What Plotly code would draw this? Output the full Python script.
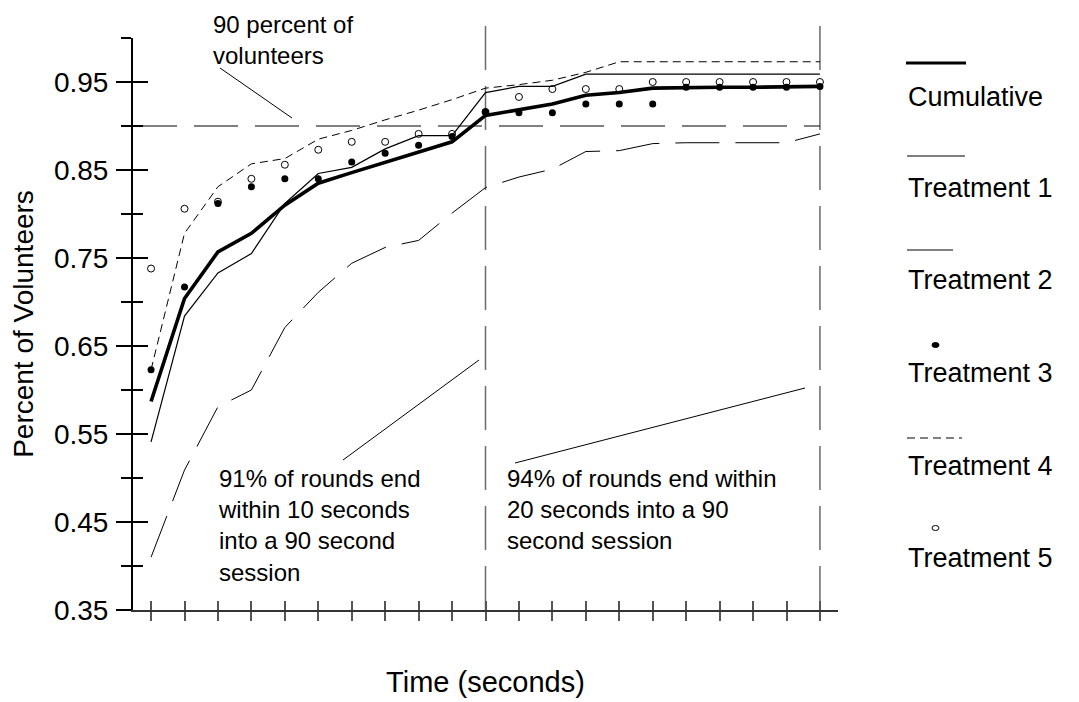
import plotly.graph_objects as go

# ---------------- data ----------------
TIME = list(range(0, 21))  # seconds
CUMULATIVE = [0.587, 0.704, 0.757, 0.778, 0.810, 0.835, 0.847, 0.859, 0.871, 0.882, 0.912,
              0.919, 0.925, 0.935, 0.938, 0.943, 0.944, 0.944, 0.944, 0.944, 0.945]
TREATMENT_1 = [0.541, 0.684, 0.733, 0.755, 0.812, 0.846, 0.853, 0.874, 0.889, 0.889, 0.938,
               0.945, 0.945, 0.959, 0.959, 0.959, 0.959, 0.959, 0.959, 0.959, 0.959]
TREATMENT_2 = [0.410, 0.509, 0.581, 0.600, 0.671, 0.711, 0.744, 0.762, 0.770, 0.801, 0.830,
               0.842, 0.851, 0.871, 0.872, 0.880, 0.881, 0.881, 0.881, 0.881, 0.891]
TREATMENT_3 = [0.623, 0.717, 0.812, 0.831, 0.840, 0.840, 0.859, 0.869, 0.878, 0.888, 0.916,
               0.915, 0.915, 0.925, 0.925, 0.925, 0.944, 0.944, 0.944, 0.944, 0.945]
TREATMENT_4 = [0.623, 0.778, 0.831, 0.857, 0.863, 0.885, 0.895, 0.907, 0.918, 0.930, 0.943,
               0.947, 0.952, 0.961, 0.973, 0.973, 0.973, 0.973, 0.973, 0.973, 0.973]
TREATMENT_5 = [0.738, 0.806, 0.814, 0.840, 0.856, 0.873, 0.882, 0.882, 0.891, 0.891, 0.916,
               0.933, 0.942, 0.942, 0.942, 0.950, 0.950, 0.950, 0.950, 0.950, 0.950]

Y_MAJOR_TICKS = [0.35, 0.45, 0.55, 0.65, 0.75, 0.85, 0.95]
Y_MINOR_TICKS = [0.40, 0.50, 0.60, 0.70, 0.80, 0.90, 1.00]
Y_TICK_LABELS = ["0.35", "0.45", "0.55", "0.65", "0.75", "0.85", "0.95"]
REFERENCE_LEVEL = 0.90          # 90 percent of volunteers
MARKER_TIMES = [10, 20]         # 10 s and 20 s
LEGEND_NAMES = ["Cumulative", "Treatment 1", "Treatment 2", "Treatment 3", "Treatment 4", "Treatment 5"]

X_RANGE = [-0.54, 20.54]
Y_RANGE = [0.35, 1.0]

# ---------------- layout geometry ----------------
W, H = 1079, 702
OFF = 8                      # page body margin offset
ML, MT = 133 - OFF, 38 - OFF
PLOT_R, PLOT_B = 838 - OFF, 610 - OFF
MR, MB = W - PLOT_R, H - PLOT_B
PW, PH = PLOT_R - ML, PLOT_B - MT
FONT = "Arial, 'Liberation Sans', sans-serif"


def px(xs):
    """screen x (as seen in the page) -> paper fraction"""
    return (xs - OFF - ML) / PW


def py(ys):
    """screen y (as seen in the page) -> paper fraction"""
    return (PLOT_B - (ys - OFF)) / PH


def x_to_paper(v):
    return (v - X_RANGE[0]) / (X_RANGE[1] - X_RANGE[0])


fig = go.Figure()

fig.add_trace(go.Scatter(x=TIME, y=TREATMENT_2, mode="lines", name="Treatment 2",
                         line=dict(color="black", width=1, dash="44px,16px")))
fig.add_trace(go.Scatter(x=TIME, y=TREATMENT_4, mode="lines", name="Treatment 4",
                         line=dict(color="black", width=1, dash="8px,5px")))
fig.add_trace(go.Scatter(x=TIME, y=TREATMENT_1, mode="lines", name="Treatment 1",
                         line=dict(color="black", width=1.2)))
fig.add_trace(go.Scatter(x=TIME, y=TREATMENT_5, mode="markers", name="Treatment 5",
                         marker=dict(symbol="circle-open", size=7, color="black", line=dict(width=1))))
fig.add_trace(go.Scatter(x=TIME, y=CUMULATIVE, mode="lines", name="Cumulative",
                         line=dict(color="black", width=3.6)))
fig.add_trace(go.Scatter(x=TIME, y=TREATMENT_3, mode="markers", name="Treatment 3",
                         marker=dict(symbol="circle", size=7, color="black")))

# overlay subplot used only for the inner half of the crossing ticks
fig.add_trace(go.Scatter(x=[None], y=[None], xaxis="x2", yaxis="y2",
                         showlegend=False, hoverinfo="skip"))

shapes = []
# 90 percent reference line
shapes.append(dict(type="line", xref="x", yref="y", x0=X_RANGE[0], x1=MARKER_TIMES[-1],
                   y0=REFERENCE_LEVEL, y1=REFERENCE_LEVEL,
                   line=dict(color="black", width=1, dash="44px,17px"), layer="below"))
# vertical markers at 10 s and 20 s (extend a bit above the plot)
for t in MARKER_TIMES:
    shapes.append(dict(type="line", xref="paper", yref="paper", x0=x_to_paper(t), x1=x_to_paper(t),
                       y0=0, y1=py(20), line=dict(color="#6a6a6a", width=1.5, dash="44px,16px"),
                       layer="below"))
# pointer lines for the notes
shapes.append(dict(type="line", xref="paper", yref="paper", x0=px(220), y0=py(68), x1=px(292), y1=py(118),
                   line=dict(color="black", width=1)))
shapes.append(dict(type="line", xref="paper", yref="paper", x0=px(343), y0=py(460), x1=px(479), y1=py(360),
                   line=dict(color="black", width=1)))
shapes.append(dict(type="line", xref="paper", yref="paper", x0=px(515), y0=py(463), x1=px(805), y1=py(388),
                   line=dict(color="black", width=1)))

# ---------------- custom legend (symbol above name) ----------------
LEG_X = 906
LEG_SYM_Y = [63, 156, 250, 345, 438, 528]
LEG_TXT_Y = [97, 188, 280, 373, 466, 558]
shapes.append(dict(type="line", xref="paper", yref="paper", x0=px(LEG_X), x1=px(966),
                   y0=py(LEG_SYM_Y[0]), y1=py(LEG_SYM_Y[0]), line=dict(color="black", width=3)))
shapes.append(dict(type="line", xref="paper", yref="paper", x0=px(LEG_X + 1), x1=px(965),
                   y0=py(LEG_SYM_Y[1]), y1=py(LEG_SYM_Y[1]), line=dict(color="black", width=1)))
shapes.append(dict(type="line", xref="paper", yref="paper", x0=px(LEG_X + 1), x1=px(953),
                   y0=py(LEG_SYM_Y[2]), y1=py(LEG_SYM_Y[2]), line=dict(color="black", width=1)))
shapes.append(dict(type="circle", xref="paper", yref="paper", x0=px(932), x1=px(939),
                   y0=py(LEG_SYM_Y[3] - 2.5), y1=py(LEG_SYM_Y[3] + 2.5),
                   fillcolor="black", line=dict(color="black", width=1)))
shapes.append(dict(type="line", xref="paper", yref="paper", x0=px(LEG_X + 1), x1=px(962),
                   y0=py(LEG_SYM_Y[4]), y1=py(LEG_SYM_Y[4]), line=dict(color="black", width=1, dash="8px,5px")))
shapes.append(dict(type="circle", xref="paper", yref="paper", x0=px(932), x1=px(939),
                   y0=py(LEG_SYM_Y[5] - 2.5), y1=py(LEG_SYM_Y[5] + 2.5),
                   fillcolor="white", line=dict(color="black", width=1)))

annotations = []
for name, yy in zip(LEGEND_NAMES, LEG_TXT_Y):
    annotations.append(dict(text=name, xref="paper", yref="paper", x=px(LEG_X), y=py(yy),
                            xanchor="left", yanchor="middle", showarrow=False,
                            font=dict(size=27, color="black", family=FONT)))

NOTE_FONT = dict(size=24, color="black", family=FONT)
annotations.append(dict(text="90 percent of<br>volunteers", xref="paper", yref="paper",
                        x=px(211), y=py(OFF + 1), xanchor="left", yanchor="top", align="left",
                        showarrow=False, font=NOTE_FONT))
annotations.append(dict(text="91% of rounds end<br>within 10 seconds<br>into a 90 second<br>session",
                        xref="paper", yref="paper", x=px(216), y=py(463), xanchor="left", yanchor="top",
                        align="left", showarrow=False, font=NOTE_FONT))
annotations.append(dict(text="94% of rounds end within<br>20 seconds into a 90<br>second session",
                        xref="paper", yref="paper", x=px(505), y=py(463), xanchor="left", yanchor="top",
                        align="left", showarrow=False, font=NOTE_FONT))

fig.update_layout(
    width=W, height=H,
    margin=dict(l=ML, r=MR, t=MT, b=MB, pad=0),
    paper_bgcolor="white", plot_bgcolor="white",
    showlegend=False,
    font=dict(family=FONT, color="black", size=28),
    shapes=shapes, annotations=annotations,
    xaxis=dict(range=X_RANGE, tickmode="array", tickvals=TIME, showticklabels=False,
               ticks="outside", ticklen=9, tickwidth=1.5, tickcolor="#555555",
               showline=True, linecolor="#333333", linewidth=2, showgrid=False, zeroline=False,
               title=dict(text="Time (seconds)", standoff=52, font=dict(size=29))),
    xaxis2=dict(range=X_RANGE, overlaying="x", anchor="y2", side="bottom", tickmode="array",
                tickvals=TIME, showticklabels=False, ticks="inside", ticklen=9, tickwidth=1.5,
                tickcolor="#555555", showline=False, showgrid=False, zeroline=False),
    yaxis=dict(range=Y_RANGE, tickmode="array", tickvals=Y_MAJOR_TICKS, ticktext=Y_TICK_LABELS,
               ticks="outside", ticklen=15, tickwidth=1.5, tickcolor="black",
               minor=dict(tickmode="array", tickvals=Y_MINOR_TICKS, ticks="outside", ticklen=10,
                          tickwidth=1.5, tickcolor="black", showgrid=False),
               showline=True, linecolor="black", linewidth=2, showgrid=False, zeroline=False,
               ticklabelstandoff=2, tickfont=dict(size=28),
               title=dict(text="Percent of Volunteers", standoff=12, font=dict(size=28))),
    yaxis2=dict(range=Y_RANGE, overlaying="y", anchor="x2", side="left", tickmode="array",
                tickvals=Y_MAJOR_TICKS, showticklabels=False,
                ticks="inside", ticklen=15, tickwidth=1.5, tickcolor="black",
                minor=dict(tickmode="array", tickvals=Y_MINOR_TICKS, ticks="inside", ticklen=10,
                           tickwidth=1.5, tickcolor="black", showgrid=False),
                showline=False, showgrid=False, zeroline=False),
)

fig.write_html("out.html")
